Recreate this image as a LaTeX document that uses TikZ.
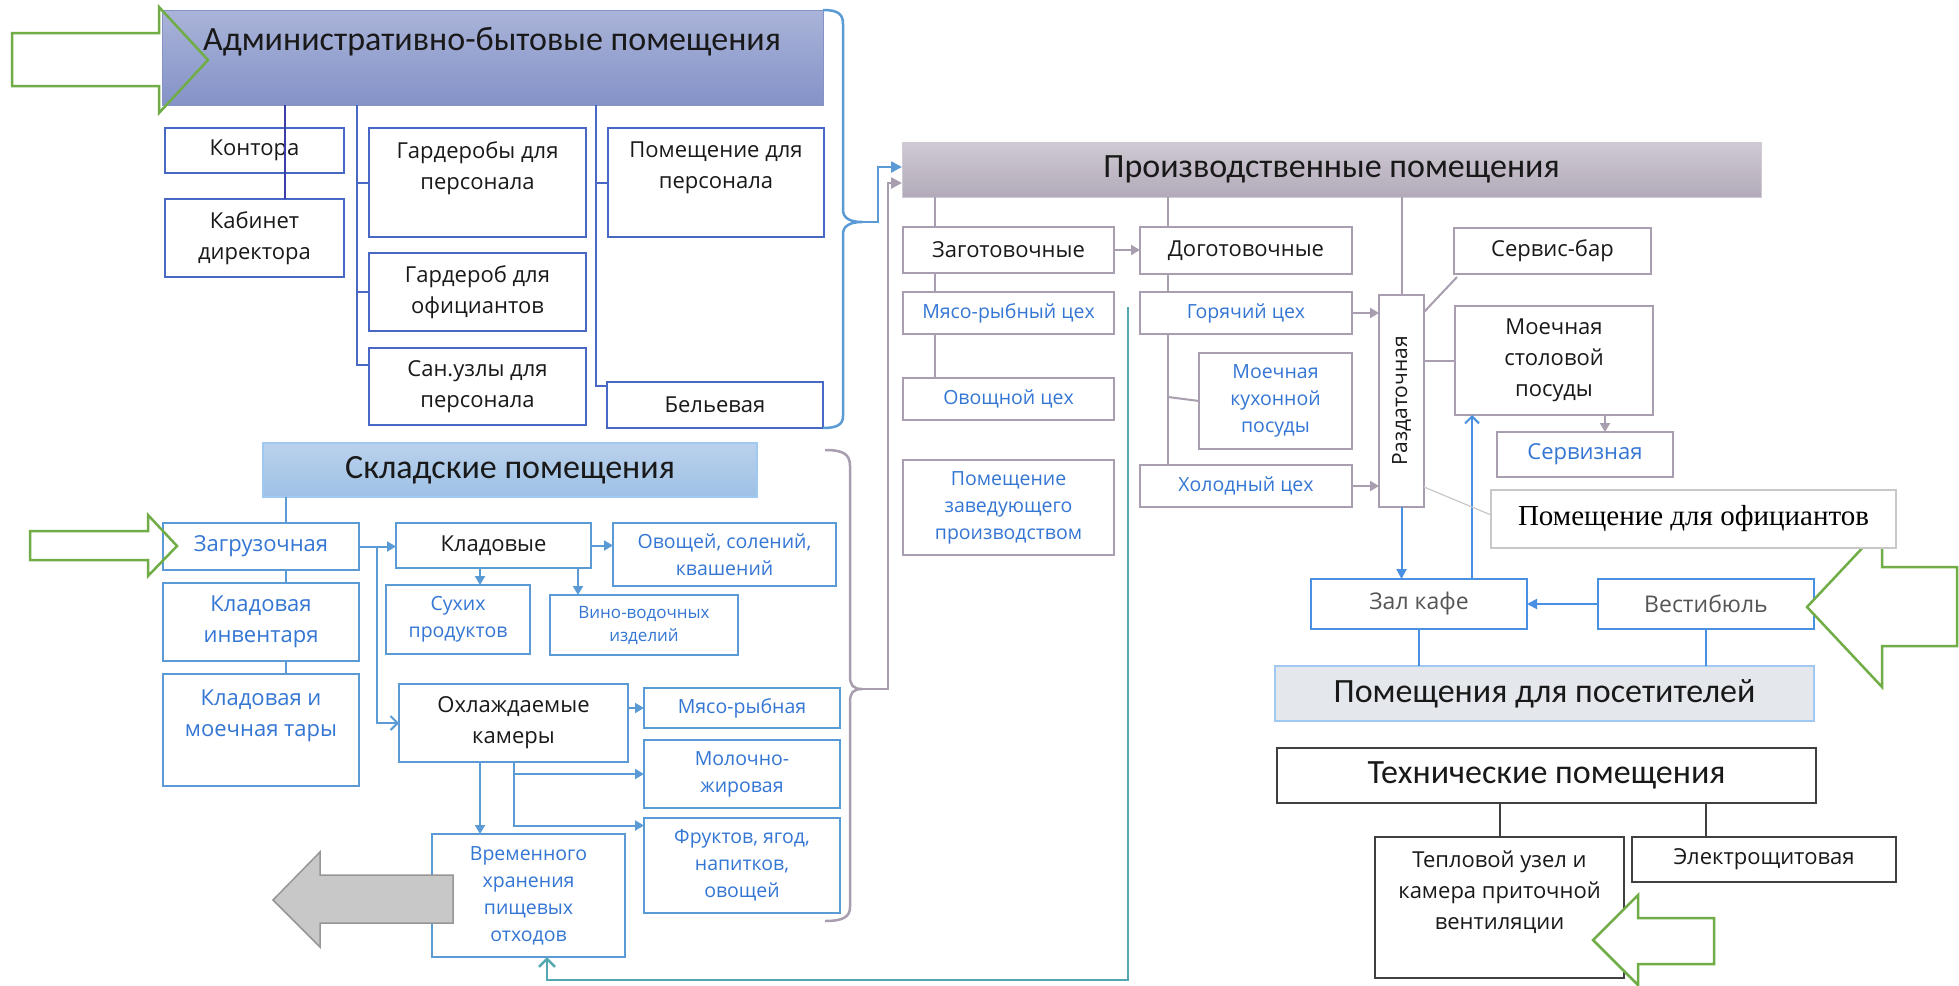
\documentclass[tikz,border=0pt]{standalone}
\usepackage{fontspec}
\setmainfont{Open Sans}
\newfontfamily\hdrfont{Carlito}
\newfontfamily\tnrfont{Liberation Serif}
\usetikzlibrary{arrows.meta,calc}
\newcommand\fz[2]{\fontsize{#1}{#2}\selectfont}
\newcommand\bx[7]{%
  \pgfmathsetmacro\bxcx{(#3+#5)/2}\pgfmathsetmacro\bxcy{(#4+#6)/2}%
  \pgfmathsetmacro\bxw{#5-#3}\pgfmathsetmacro\bxh{#6-#4}%
  \node[#1,minimum width=\bxw pt,minimum height=\bxh pt] (#2) at (\bxcx,\bxcy) {#7};}
\definecolor{admblue}{RGB}{72,104,196}
\definecolor{admdark}{RGB}{60,60,170}
\definecolor{hdrAtop}{RGB}{170,180,217}
\definecolor{hdrAbot}{RGB}{132,146,199}
\definecolor{skyb}{RGB}{91,155,213}
\definecolor{txtblue}{RGB}{52,118,212}
\definecolor{hdrStop}{RGB}{186,209,236}
\definecolor{hdrSbot}{RGB}{158,193,229}
\definecolor{pgray}{RGB}{168,158,175}
\definecolor{hdrPtop}{RGB}{208,202,212}
\definecolor{hdrPbot}{RGB}{178,170,184}
\definecolor{vblue}{RGB}{74,144,226}
\definecolor{vfill}{RGB}{228,231,236}
\definecolor{vborder}{RGB}{160,200,240}
\definecolor{grn}{RGB}{112,173,71}
\definecolor{tealc}{RGB}{84,166,176}
\definecolor{lgray}{RGB}{200,200,200}
\definecolor{dgray}{RGB}{64,64,64}
\definecolor{txtgray}{RGB}{85,85,85}
\definecolor{txtblack}{RGB}{25,25,25}
\definecolor{arrgray}{RGB}{200,200,200}
\definecolor{arrgrayd}{RGB}{150,150,150}
\begin{document}
\begin{tikzpicture}[x=1pt,y=-1pt,
  every node/.style={inner sep=0pt,outer sep=0pt,align=center},
  hdr/.style={font=\hdrfont\fz{34}{40},text=txtblack},
  abox/.style={draw=admblue,line width=2pt,fill=white,text=txtblack,font=\fz{22}{31}},
  atext/.style={text=txtblack,font=\fz{22}{31}},
  aline/.style={draw=admblue,line width=2pt},
  adark/.style={draw=admdark,line width=2pt},
  skybrace/.style={draw=skyb,line width=2.5pt},
  skyarrow/.style={draw=skyb,line width=2.5pt,-{Triangle[length=11pt,width=11pt]}},
  sbox/.style={draw=skyb,line width=2pt,fill=white,text=txtblue,font=\fz{22}{31}},
  sboxk/.style={sbox,text=txtblack},
  sboxs/.style={sbox,font=\fz{19.5}{27}},
  sboxv/.style={sbox,font=\fz{17}{23}},
  stext/.style={text=txtblue,font=\fz{22}{31}},
  sline/.style={draw=skyb,line width=2pt},
  sarrow/.style={sline,-{Triangle[length=9pt,width=10pt]}},
  sopen/.style={sline,-{Straight Barb[length=7pt,width=14pt]}},
  pbox/.style={draw=pgray,line width=2.5pt,fill=white,text=txtblack,font=\fz{22}{31}},
  pboxb/.style={pbox,text=txtblue,font=\fz{19.5}{27}},
  ptext/.style={text=txtblack,font=\fz{21}{28}},
  pline/.style={draw=pgray,line width=2pt},
  parrow/.style={pline,-{Triangle[length=9pt,width=10pt]}},
  pbrace/.style={draw=pgray,line width=2.5pt},
  pbarrow/.style={draw=pgray,line width=2.5pt,-{Triangle[length=11pt,width=11pt]}},
  thin/.style={draw=lgray,line width=1.2pt},
  ofbox/.style={draw=lgray,line width=2.5pt,fill=white,text=black,font=\tnrfont\fz{29}{34}},
  vbox/.style={draw=vblue,line width=2.5pt,fill=white,text=txtgray,font=\fz{23}{30}},
  vline/.style={draw=vblue,line width=2pt},
  varrow/.style={vline,-{Triangle[length=10pt,width=10pt]}},
  vopen/.style={vline,-{Straight Barb[length=7pt,width=14pt]}},
  vhdr/.style={hdr,draw=vborder,line width=2pt,fill=vfill},
  tbox/.style={draw=dgray,line width=2.5pt,fill=white,text=txtblack,font=\fz{22}{31}},
  ttext/.style={text=txtblack,font=\fz{22}{31}},
  tline/.style={draw=dgray,line width=2pt},
  grnarrow/.style={draw=grn,line width=2.5pt,line join=miter},
  tealarrow/.style={draw=tealc,line width=2.5pt,-{Straight Barb[length=8pt,width=16pt]}}
]
\fill[white] (0,0) rectangle (1959,985);
\useasboundingbox (0,0) rectangle (1959,985);

%% ---------- Administrative ----------
\bx{draw=hdrAbot,line width=1pt,top color=hdrAtop,bottom color=hdrAbot}{hdrA}{162}{10}{823}{105}{}
\node[hdr] (hdrA-t) at (492,42) {Административно-бытовые помещения};
\bx{abox}{kontora}{165}{128}{344}{173}{Контора}
\bx{abox}{kabinet}{165}{199}{344}{277}{Кабинет\\директора}
\bx{abox}{garderoby}{369}{128}{586}{237}{}
\node[atext] (garderoby-t) at (477.5,168) {Гардеробы для\\персонала};
\bx{abox}{garderob}{369}{253}{586}{331}{Гардероб для\\официантов}
\bx{abox}{sanuzly}{369}{348}{586}{425}{Сан.узлы для\\персонала}
\bx{abox}{pomper}{608}{128}{824}{237}{}
\node[atext] (pomper-t) at (716,168) {Помещение для\\персонала};
\bx{abox}{belevaya}{607}{382}{823}{428}{Бельевая}

\draw[aline] ($(hdrA.south -| garderoby.west)+(-12,0)$) |- ($(sanuzly.west)+(0,-22)$);
\draw[aline] ($(garderoby.west)+(-12,0)$) -- (garderoby.west);
\draw[aline] ($(garderob.west)+(-12,0)$) -- (garderob.west);
\draw[aline] ($(hdrA.south -| pomper.west)+(-12,0)$) |- ($(belevaya.west)+(0,-19)$);
\draw[aline] ($(pomper.west)+(-12,0)$) -- (pomper.west);
\draw[adark] ($(hdrA.south -| kabinet.north)+(30,0)$) -- ($(kabinet.north)+(30,0)$);

\draw[grnarrow] (12,33) -- (159,33) -- (159,7) -- (208,60) -- (159,113) -- (159,86) -- (12,86) -- cycle;

\coordinate (braceA) at (862,222);
\draw[skybrace] (hdrA.north east) .. controls (838,10) and (843,14) .. (843,24) -- (843,210)
  .. controls (843,218) and (850,222) .. (braceA)
  .. controls (850,222) and (843,226) .. (843,234) -- (843,416)
  .. controls (843,424) and (838,428) .. (belevaya.south east);

%% ---------- Warehouse ----------
\bx{hdr,draw=vborder,line width=1.5pt,top color=hdrStop,bottom color=hdrSbot}{hdrS}{263}{443}{757}{497}{Складские помещения}
\bx{sbox}{zagr}{163}{523}{359}{570}{Загрузочная}
\bx{sbox}{kinv}{163}{583}{359}{661}{Кладовая\\инвентаря}
\bx{sbox}{ktar}{163}{674}{359}{786}{}
\node[stext] (ktar-t) at (261,716) {Кладовая и\\моечная тары};
\bx{sboxk}{klad}{396}{523}{591}{568}{Кладовые}
\bx{sboxs}{ovo}{613}{523}{836}{586}{Овощей, солений,\\квашений}
\bx{sboxs}{suh}{386}{585}{530}{654}{Сухих\\продуктов}
\bx{sboxv}{vino}{550}{595}{738}{655}{Вино-водочных\\изделий}
\bx{sboxk}{ohl}{399}{684}{628}{762}{Охлаждаемые\\камеры}
\bx{sboxs}{myr}{644}{688}{840}{728}{Мясо-рыбная}
\bx{sboxs}{mol}{644}{740}{840}{808}{Молочно-\\жировая}
\bx{sboxs}{fru}{644}{818}{840}{913}{Фруктов, ягод,\\напитков,\\овощей}
\bx{sboxs}{vrem}{432}{834}{625}{957}{Временного\\хранения\\пищевых\\отходов}

\draw[sline] ($(hdrS.south -| zagr.north)+(25,0)$) -- ($(zagr.north)+(25,0)$);
\draw[sline] ($(zagr.south)+(25,0)$) -- ($(kinv.north)+(25,0)$);
\draw[sline] ($(kinv.south)+(25,0)$) -- ($(ktar.north)+(25,0)$);
\draw[sarrow] (zagr.east) -- (zagr.east -| klad.west);
\draw[sopen] ($(zagr.east)+(18,0)$) |- (ohl.west);
\draw[sarrow] (klad.east) -- (klad.east -| ovo.west);
\draw[sarrow] ($(klad.south)+(-13.5,0)$) coordinate (k1) -- (k1 |- suh.north);
\draw[sarrow] ($(klad.south)+(84.5,0)$) coordinate (k2) -- (k2 |- vino.north);
\draw[sarrow] (ohl.east |- myr.west) -- (myr.west);
\draw[sarrow] (ohl.south) |- ($(fru.west)+(0,-40)$);
\draw[sarrow] (ohl.south |- mol.west) -- (mol.west);
\draw[sarrow] ($(ohl.south)+(-33.5,0)$) coordinate (o1) -- (o1 |- vrem.north);

\draw[draw=arrgrayd,line width=1.5pt,fill=arrgray] (453,875) -- (320,875) -- (320,852) -- (273,900) -- (320,947) -- (320,923) -- (453,923) -- cycle;
\draw[grnarrow] (30,531) -- (148,531) -- (148,515) -- (177,546) -- (148,576) -- (148,560) -- (30,560) -- cycle;

\coordinate (braceS) at (862,689);
\draw[pbrace] (825,450) .. controls (843,450) and (850,454) .. (850,466) -- (850,676)
  .. controls (850,685) and (853,689) .. (braceS)
  .. controls (853,689) and (850,693) .. (850,702) -- (850,907)
  .. controls (850,917) and (843,921) .. (825,921);

%% ---------- Production ----------
\bx{hdr,draw=hdrPtop,line width=1pt,top color=hdrPtop,bottom color=hdrPbot}{hdrP}{902}{142}{1761}{197}{Производственные помещения}
\draw[skyarrow] (braceA) -| ($(hdrP.west)+(-24,-2.5)$) -- ($(hdrP.west)+(0,-2.5)$);
\draw[pbarrow] (braceS) -| ($(hdrP.west)+(-14,13.5)$) -- ($(hdrP.west)+(0,13.5)$);

\bx{pbox}{zag}{903}{227}{1114}{273}{Заготовочные}
\bx{pboxb}{myaso}{903}{292}{1114}{334}{Мясо-рыбный цех}
\bx{pboxb}{ovosh}{903}{378}{1114}{420}{Овощной цех}
\bx{pboxb}{zav}{903}{460}{1114}{555}{Помещение\\заведующего\\производством}
\bx{pbox}{dog}{1140}{227}{1352}{274}{Доготовочные}
\bx{pboxb}{gor}{1140}{292}{1352}{334}{Горячий цех}
\bx{pboxb}{moekuh}{1199}{353}{1352}{449}{Моечная\\кухонной\\посуды}
\bx{pboxb}{hol}{1140}{465}{1352}{507}{Холодный цех}
\bx{pbox}{razd}{1379}{295}{1424}{507}{}
\node[ptext,rotate=90] (razd-t) at (razd.center) {Раздаточная};
\bx{pbox}{servbar}{1454}{228}{1651}{274}{Сервис-бар}
\bx{pbox}{moestol}{1455}{306}{1653}{415}{Моечная\\столовой\\посуды}
\bx{pbox,text=txtblue}{serviz}{1497}{432}{1673}{477}{Сервизная}

\draw[pline] ($(hdrP.south -| zag.north)+(-73.5,0)$) -- ($(zag.north)+(-73.5,0)$);
\draw[pline] ($(zag.south)+(-73.5,0)$) -- ($(myaso.north)+(-73.5,0)$);
\draw[pline] ($(myaso.south)+(-73.5,0)$) -- ($(ovosh.north)+(-73.5,0)$);
\draw[pline] ($(hdrP.south -| dog.north)+(-78,0)$) -- ($(dog.north)+(-78,0)$);
\draw[pline] ($(dog.south)+(-78,0)$) -- ($(gor.north)+(-78,0)$);
\draw[pline] ($(gor.south)+(-78,0)$) -- ($(hol.north)+(-78,0)$);
\draw[pline] ($(gor.south |- moekuh.west)+(-78,-4)$) -- (moekuh.west);
\draw[parrow] (zag.east) -- (zag.east -| dog.west);
\draw[parrow] (gor.east) -- (gor.east -| razd.west);
\draw[parrow] (hol.east) -- (hol.east -| razd.west);
\draw[pline] (hdrP.south -| razd.north) -- (razd.north);
\draw[pline] ($(razd.north east)+(0,17)$) -- ($(servbar.south west)+(3,3)$);
\draw[pline] (moestol.west -| razd.east) -- (moestol.west);
\draw[parrow] ($(moestol.south)+(51,0)$) coordinate (ms) -- (ms |- serviz.north);

\coordinate (tealtop) at (1128,307);
\coordinate (tealbot) at (1128,980);
\draw[tealarrow] (tealtop) -- (tealbot) -| ($(vrem.south)+(18.5,0)$);

%% ---------- Visitors ----------
\bx{vbox}{zal}{1311}{579}{1527}{629}{Зал кафе}
\bx{vbox}{vest}{1598}{579}{1814}{629}{Вестибюль}
\bx{vhdr}{posh}{1275}{666}{1814}{721}{Помещения для посетителей}
\draw[varrow] (razd.south) -- (razd.south |- zal.north);
\draw[vopen] ($(zal.north)+(53,0)$) coordinate (zu) -- (zu |- moestol.south);
\draw[varrow] (vest.west) -- (zal.east);
\draw[vline] (zal.south) -- (zal.south |- posh.north);
\draw[vline] (vest.south) -- (vest.south |- posh.north);

\draw[grnarrow,fill=white] (1807,607) -- (1882,527) -- (1882,567) -- (1957,567) -- (1957,646) -- (1882,646) -- (1882,687) -- cycle;

\bx{ofbox}{ofic}{1491}{490}{1896}{548}{Помещение для официантов}
\draw[thin] ($(razd.east)+(0,86)$) -- ($(ofic.west)+(0,-4)$);

%% ---------- Technical ----------
\bx{hdr,draw=dgray,line width=2.5pt,fill=white}{tech}{1277}{748}{1816}{803}{Технические помещения}
\bx{tbox}{tepl}{1375}{837}{1624}{978}{}
\node[ttext] (tepl-t) at (1499.5,892) {Тепловой узел и\\камера приточной\\вентиляции};
\bx{tbox}{elec}{1632}{837}{1896}{882}{Электрощитовая}
\draw[tline] (tech.south -| tepl.north) -- (tepl.north);
\draw[tline] ($(elec.north)+(-58,0)$) coordinate (en) -- (en |- tech.south);

\draw[grnarrow,fill=white] (1593,940) -- (1638,895) -- (1638,918) -- (1714,918) -- (1714,964) -- (1638,964) -- (1638,985) -- cycle;
\end{tikzpicture}
\end{document}
